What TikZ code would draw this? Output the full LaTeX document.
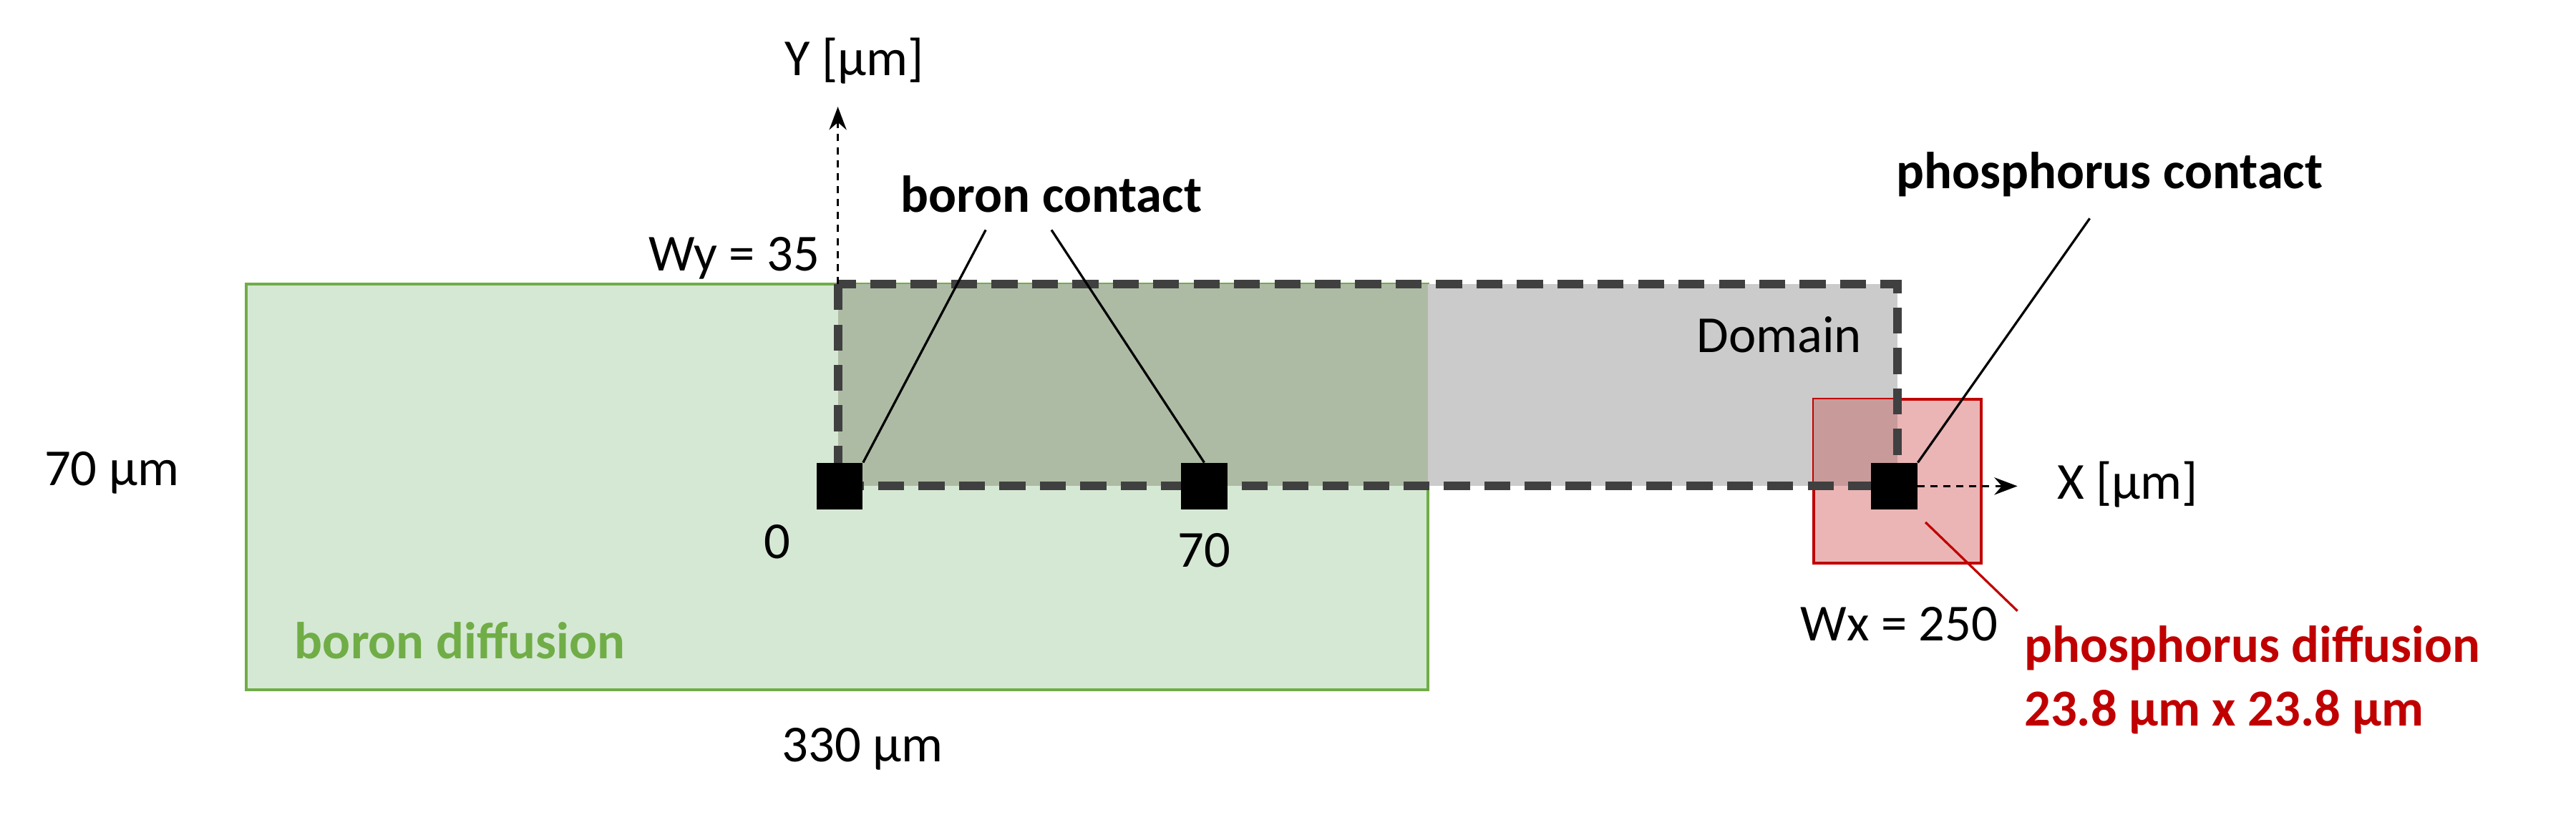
\documentclass[tikz,border=0pt]{standalone}
\usepackage{fontspec}
\setmainfont{Carlito}
\usetikzlibrary{arrows.meta}
\definecolor{gfill}{HTML}{D5E8D4}
\definecolor{gline}{HTML}{70AD47}
\definecolor{dfill}{HTML}{CBCBCB}
\definecolor{ofill}{HTML}{AEBBA4}
\definecolor{rfill}{HTML}{EBB5B5}
\definecolor{rline}{HTML}{C00000}
\definecolor{rofill}{HTML}{C89A9A}
\tikzset{lbl/.style={font=\fontsize{18}{22}\selectfont},
 blbl/.style={font=\fontsize{18}{22}\selectfont\bfseries},
 contact/.style={fill=black,minimum size=0.56cm,inner sep=0},
 axis/.style={dash pattern=on 2.5pt off 2pt,thick,-{Stealth[length=8pt,width=6pt]}}}
\begin{document}
\begin{tikzpicture}[x=0.02cm,y=-0.02cm]
\useasboundingbox (0,0) rectangle (1568,496);
\draw[gline,fill=gfill,line width=1pt] (150,173) rectangle (869,420);
\fill[ofill] (510,173) rectangle (869,296);
\fill[dfill] (869,173) rectangle (1155,296);
\draw[rline,fill=rfill,line width=1pt] (1104,243) rectangle (1206,343);
\fill[rofill] (1104,243) rectangle (1155,296);
\draw[black!75,line width=3pt,dash pattern=on 9pt off 5pt] (510,173) rectangle (1155,296);
\node[contact] (c0) at (511,296) {};
\node[contact] (c70) at (733,296) {};
\node[contact] (cp) at (1153,296) {};
\coordinate (yo) at (510,173); \coordinate (yt) at (510,65);
\draw[axis] (yo) -- (yt);
\coordinate (xo) at (1167,296); \coordinate (xt) at (1228,296);
\draw[axis] (xo) -- (xt);
\node[lbl] (ylab) at (520,37) {Y [µm]};
\node[lbl] (xlab) at (1295,295) {X [µm]};
\node[lbl] (wy) at (447,157) {Wy = 35};
\node[lbl] (l0) at (473,330) {0};
\node[lbl] (l70) at (733,335) {70};
\node[lbl] (wx) at (1156,380) {Wx = 250};
\node[lbl] (h70) at (68,288) {70 µm};
\node[lbl] (w330) at (525,456) {330 µm};
\node[lbl] (dom) at (1083,204) {Domain};
\node[blbl,text=gline] (bd) at (280,390) {boron diffusion};
\node[blbl] (bc) at (640,118) {boron contact};
\node[blbl] (pc) at (1284,106) {phosphorus contact};
\node[blbl,text=rline,align=left,anchor=west] (pd) at (1226,414) {phosphorus diffusion\\23.8 µm x 23.8 µm};
\coordinate (b1) at (600,140); \coordinate (b2) at (640,140); \coordinate (p1) at (1272,133);
\draw[thick] (b1) -- (c0.north east);
\draw[thick] (b2) -- (c70.north);
\draw[thick] (p1) -- (cp.north east);
\coordinate (r1) at (1172,318); \coordinate (r2) at (1228,372);
\draw[rline,thick] (r1) -- (r2);
\end{tikzpicture}
\end{document}
